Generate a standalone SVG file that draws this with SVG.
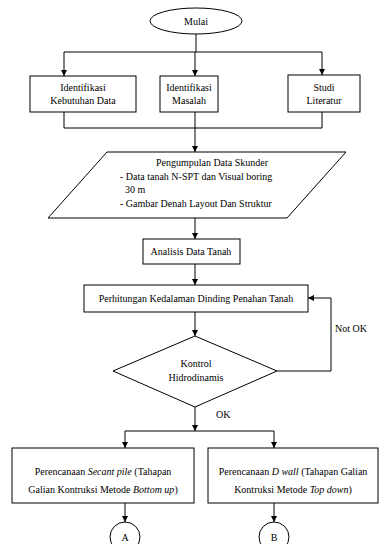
<svg xmlns="http://www.w3.org/2000/svg" width="385" height="544" viewBox="0 0 385 544">
<defs>
<marker id="ah" viewBox="0 0 10 10" refX="10" refY="5" markerWidth="6" markerHeight="6" orient="auto" markerUnits="userSpaceOnUse">
<path d="M0,0 L10,5 L0,10 z" fill="#000"/>
</marker>
<style>
.s{fill:#fff;stroke:#000;stroke-width:1}
.c{fill:none;stroke:#000;stroke-width:1}
.a{marker-end:url(#ah)}
.t{font-family:'Times New Roman','Liberation Serif',Times,serif;font-size:10px;fill:#000}
.m{text-anchor:middle}
</style>
</defs>
<rect width="385" height="544" fill="#fff"/>
<g id="connectors">
<path class="c" d="M196,34 V52"/>
<path class="c" d="M64,52 H322"/>
<path class="c a" d="M64,52 V76"/>
<path class="c a" d="M195,52 V76"/>
<path class="c a" d="M322,52 V75"/>
<path class="c" d="M64,112 V128 H322 V112"/>
<path class="c a" d="M195,112 V152"/>
<path class="c a" d="M195,218 V239"/>
<path class="c a" d="M195,264 V285"/>
<path class="c a" d="M195,312 V336"/>
<path class="c a" d="M277,371 H331 V298 H308"/>
<path class="c a" d="M195,407 V431"/>
<path class="c" d="M125,431 H274"/>
<path class="c a" d="M125,431 V448"/>
<path class="c a" d="M274,431 V448"/>
<path class="c a" d="M125,503 V522"/>
<path class="c a" d="M274,503 V522"/>
<text class="t" x="335" y="332">Not OK</text>
<text class="t" x="216" y="418">OK</text>
</g>
<g id="mulai">
<ellipse class="s" cx="196" cy="21" rx="46" ry="13"/>
<text class="t m" x="196" y="25">Mulai</text>
</g>
<g id="identifikasi-kebutuhan">
<rect class="s" x="30" y="76" width="106" height="36"/>
<text class="t m" x="83" y="91">Identifikasi</text>
<text class="t m" x="83" y="104">Kebutuhan Data</text>
</g>
<g id="identifikasi-masalah">
<rect class="s" x="160" y="76" width="58" height="36"/>
<text class="t m" x="189" y="91">Identifikasi</text>
<text class="t m" x="189" y="104">Masalah</text>
</g>
<g id="studi-literatur">
<rect class="s" x="288" y="75" width="72" height="37"/>
<text class="t m" x="324" y="91">Studi</text>
<text class="t m" x="324" y="104">Literatur</text>
</g>
<g id="pengumpulan">
<polygon class="s" points="107,152 346,152 287,218 48,218"/>
<text class="t m" x="212" y="166">Pengumpulan Data Skunder</text>
<text class="t" x="120" y="180">-  Data tanah N-SPT dan Visual boring</text>
<text class="t" x="125" y="193">30 m</text>
<text class="t" x="120" y="207">-  Gambar Denah Layout Dan Struktur</text>
</g>
<g id="analisis">
<rect class="s" x="143" y="239" width="97" height="25"/>
<text class="t m" x="191" y="255">Analisis Data Tanah</text>
</g>
<g id="perhitungan">
<rect class="s" x="84" y="285" width="224" height="27"/>
<text class="t m" x="196" y="302">Perhitungan Kedalaman Dinding Penahan Tanah</text>
</g>
<g id="kontrol">
<polygon class="s" points="195,336 277,371 195,407 113,371"/>
<text class="t m" x="196" y="367">Kontrol</text>
<text class="t m" x="196" y="381">Hidrodinamis</text>
</g>
<g id="secant-pile">
<rect class="s" x="12" y="448" width="182" height="55"/>
<text class="t m" x="103" y="475">Perencanaan <tspan font-style="italic">Secant pile</tspan> (Tahapan</text>
<text class="t m" x="103" y="493">Galian Kontruksi Metode <tspan font-style="italic">Bottom up</tspan>)</text>
</g>
<g id="d-wall">
<rect class="s" x="208" y="448" width="170" height="55"/>
<text class="t m" x="293" y="475">Perencanaan <tspan font-style="italic">D wall</tspan> (Tahapan Galian</text>
<text class="t m" x="293" y="493">Kontruksi Metode <tspan font-style="italic">Top down</tspan>)</text>
</g>
<g id="circle-a">
<circle class="s" cx="125" cy="537" r="15"/>
<text class="t m" x="125" y="541">A</text>
</g>
<g id="circle-b">
<circle class="s" cx="274" cy="537" r="15"/>
<text class="t m" x="274" y="541">B</text>
</g>
</svg>
